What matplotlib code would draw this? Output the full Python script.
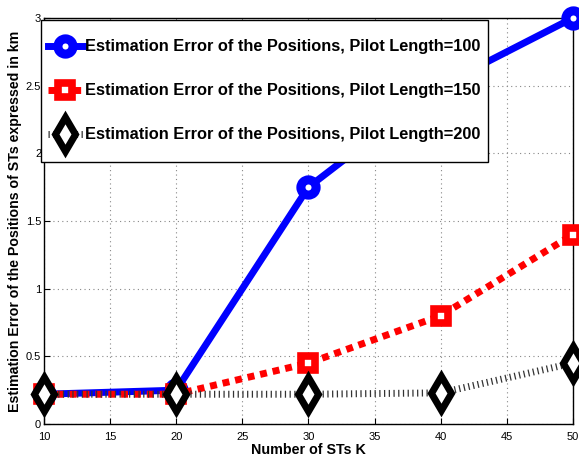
import matplotlib
matplotlib.use("Agg")
import numpy as np
import matplotlib.pyplot as plt

K = [10, 20, 30, 40, 50]
err_100 = [0.22, 0.25, 1.75, 2.50, 3.00]
err_150 = [0.22, 0.22, 0.45, 0.80, 1.40]
err_200 = [0.22, 0.22, 0.22, 0.23, 0.45]
labels = ["Estimation Error of the Positions, Pilot Length=100",
          "Estimation Error of the Positions, Pilot Length=150",
          "Estimation Error of the Positions, Pilot Length=200"]
xticks = [10, 15, 20, 25, 30, 35, 40, 45, 50]
yticks = [0, 0.5, 1, 1.5, 2, 2.5, 3]
yticklabels = ["0", "0.5", "1", "1.5", "2", "2.5", "3"]

plt.rcParams['font.family'] = ['Liberation Sans', 'DejaVu Sans']

fig = plt.figure(figsize=(5.79, 4.57), dpi=100)
ax = fig.add_axes([0.076, 0.0722, 0.9134, 0.8884])

ax.plot(K, err_100, color='#0000ff', lw=5, ls='-', marker='o', ms=11, mew=6.5,
        mfc='white', mec='#0000ff', clip_on=False, label=labels[0], zorder=3)
ax.plot(K, err_150, color='#ff0000', lw=5, ls=(0, (1, 0.85)), marker='s', ms=10, mew=5.5,
        mfc='white', mec='#ff0000', clip_on=False, label=labels[1], zorder=4)
ax.plot(K, err_200, color='#333333', lw=5, ls=(0, (0.18, 0.5)), marker='d', ms=17, mew=5,
        mfc='white', mec='black', clip_on=False, label=labels[2], zorder=5)

ax.set_xlim(10, 50)
ax.set_ylim(0, 3)
ax.set_xticks(xticks)
ax.set_xticklabels([str(t) for t in xticks])
ax.set_yticks(yticks)
ax.set_yticklabels(yticklabels)
ax.tick_params(direction='in', labelsize=8, length=4, width=0.8)
ax.tick_params(axis='x', pad=5.5)
ax.tick_params(axis='y', pad=2)
ax.grid(True, ls=(0, (1, 3)), color='#888888', lw=0.8)
for s in ax.spines.values():
    s.set_linewidth(1.0)

ax.set_xlabel("Number of STs K", fontsize=10.3, fontweight='bold', labelpad=1)
ax.set_ylabel("Estimation Error of the Positions of STs expressed in km",
              fontsize=10.2, fontweight='bold', labelpad=3)

leg = ax.legend(loc='upper left', bbox_to_anchor=(-0.0057, 0.995),
                prop={'weight': 'bold', 'size': 11.75}, frameon=True, fancybox=False,
                framealpha=1, edgecolor='black', handlelength=2.1, handleheight=3.3,
                labelspacing=0.3, borderpad=0.45, handletextpad=0.15, borderaxespad=0)
leg.get_frame().set_linewidth(1.0)
leg.set_zorder(10)
for col in leg._legend_handle_box.get_children():
    for row in col.get_children():
        row.align = 'center'
        hbox = row.get_children()[0]
        for art in hbox.get_children():
            if hasattr(art, 'get_ydata'):
                art.set_ydata(np.asarray(art.get_ydata(), dtype=float) - 4.6)

fig.savefig("out.png", dpi=100)
